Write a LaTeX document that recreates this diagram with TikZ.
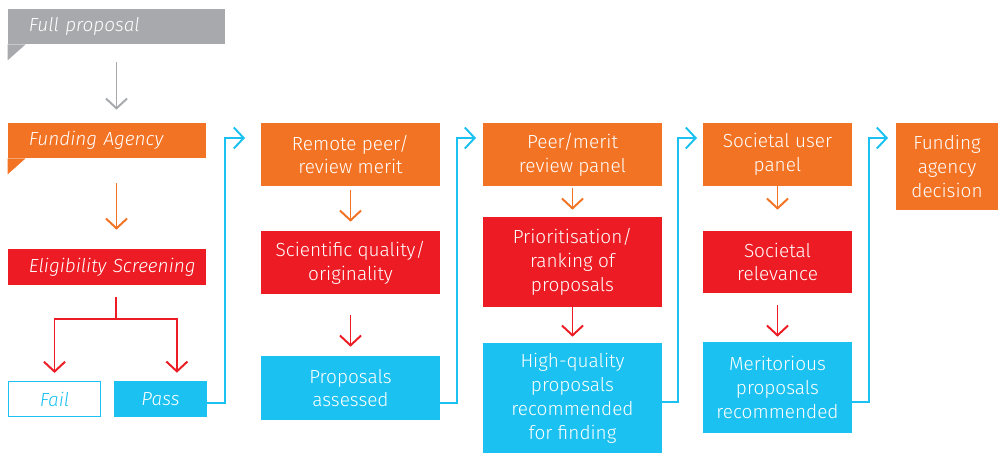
\documentclass[tikz,border=0pt]{standalone}
\usepackage{fontspec}
\setmainfont{Fira Sans Light}[ItalicFont={Fira Sans Light Italic}]
\usetikzlibrary{arrows.meta}
\definecolor{fpgray}{HTML}{A7A9AC}
\definecolor{fporange}{HTML}{F37324}
\definecolor{fpred}{HTML}{ED1C24}
\definecolor{fpblue}{HTML}{1BC1F0}
\begin{document}
\begin{tikzpicture}[x=0.025cm,y=-0.025cm]
		\tikzstyle{box}=[rectangle,inner sep=0pt,text=white,align=center,font=\fontsize{13.5}{17}\selectfont,minimum height=1.575cm]
		\tikzstyle{wide}=[box,minimum width=4.475cm]
		\tikzstyle{tag}=[box,font=\fontsize{13.5}{17}\selectfont\itshape,align=left,minimum height=0.875cm,execute at begin node=\hspace*{0.525cm}]
		\tikzstyle{arr}=[-{Straight Barb[length=7pt,width=15pt]},line width=1.4pt]
		\tikzstyle{conn}=[-{Straight Barb[length=7pt,width=15pt]},line width=1.4pt,draw=fpblue]
		\useasboundingbox (0,0) rectangle (998,453);

		% left column
		\node[tag,fill=fpgray,text width=5.425cm] (full) at (116.5,26.5) {Full proposal};
		\node[tag,fill=fporange,text width=4.95cm] (agency) at (107,140.5) {Funding Agency};
		\node[tag,fill=fpred,text width=4.95cm,minimum height=0.9cm] (elig) at (107,267) {Eligibility Screening};
		\node[box,fill=white,draw=fpblue,line width=0.8pt,text=fpblue,font=\fontsize{13.5}{17}\selectfont\itshape,minimum width=2.3cm,minimum height=0.875cm] (fail) at (54.5,399) {Fail};
		\node[box,fill=fpblue,font=\fontsize{13.5}{17}\selectfont\itshape,minimum width=2.325cm,minimum height=0.9cm] (pass) at (160.5,399) {Pass};
		\fill[fpgray] (full.south west) -- ++(0,16) -- ++(18,-16) -- cycle;
		\fill[fporange] (agency.south west) -- ++(0,16) -- ++(18,-16) -- cycle;

		% remote review
		\node[wide,fill=fporange] (remote) at (350.5,154.5) {Remote peer/\\review merit};
		\node[wide,fill=fpred] (sci) at (350.5,262.5) {Scientific quality/\\originality};
		\node[wide,fill=fpblue,minimum height=1.6cm] (assessed) at (350.5,388) {Proposals\\assessed};

		% panel
		\node[wide,fill=fporange] (peer) at (572.5,154.5) {Peer/merit\\review panel};
		\node[wide,fill=fpred,minimum height=2.25cm] (prior) at (572.5,262) {Prioritisation/\\ranking of\\proposals};
		\node[wide,fill=fpblue,minimum height=2.75cm] (hq) at (572.5,398) {High-quality\\proposals\\recommended\\for finding};

		% societal
		\node[box,minimum width=3.725cm,fill=fporange] (soc) at (777.5,154.5) {Societal user\\panel};
		\node[box,minimum width=3.725cm,fill=fpred,minimum height=1.55cm] (rel) at (777.5,262) {Societal\\relevance};
		\node[box,minimum width=3.725cm,fill=fpblue,minimum height=2.275cm] (merit) at (777.5,387.5) {Meritorious\\proposals\\recommended};

		\node[box,minimum width=2.55cm,fill=fporange,minimum height=2.175cm] (decision) at (947,166.5) {Funding\\agency\\decision};

		\coordinate (split) at (116,319);
		\coordinate (in2) at (245,138);
		\coordinate (in3) at (476,138);
		\coordinate (in4) at (697,138);
		\coordinate (in5) at (888,138);

		% arrows down
		\draw[arr,fpgray,shorten <=0.45cm,shorten >=0.325cm] (full.south) -- (full.south |- agency.north);
		\draw[arr,fporange,shorten <=0.625cm,shorten >=0.475cm] (agency.south -| full.south) -- (elig.north -| full.south);
		\draw[fpred,line width=1.4pt,shorten <=0.3cm] (elig.south -| split) -- (split);
		\draw[arr,fpred,shorten >=0.2cm] (split) -| (fail.north);
		\draw[arr,fpred,shorten >=0.2cm] (split) -| ([xshift=0.41cm]pass.north);
		\draw[arr,fporange,shorten <=0.1cm,shorten >=0.225cm] (remote) -- (sci);
		\draw[arr,fpred,shorten <=0.525cm,shorten >=0.225cm] (sci) -- (assessed);
		\draw[arr,fporange,shorten <=0.05cm,shorten >=0.175cm] (peer) -- (prior);
		\draw[arr,fpred,shorten >=0.15cm] (prior) -- (hq);
		\draw[arr,fporange,shorten >=0.525cm] (soc) -- (rel);
		\draw[arr,fpred,shorten <=0.3cm,shorten >=0.125cm] (rel) -- (merit);

		% connectors
		\draw[conn] ([yshift=-0.1cm]pass.east) -- ++(18,0) |- (in2);
		\draw[conn] ([yshift=-0.375cm]assessed.east) -- ++(17,0) |- (in3);
		\draw[conn] ([yshift=-0.1cm]hq.east) -- ++(16,0) |- (in4);
		\draw[conn] ([yshift=-0.36cm]merit.east) -- ++(17,0) |- (in5);
		\end{tikzpicture}
\end{document}
